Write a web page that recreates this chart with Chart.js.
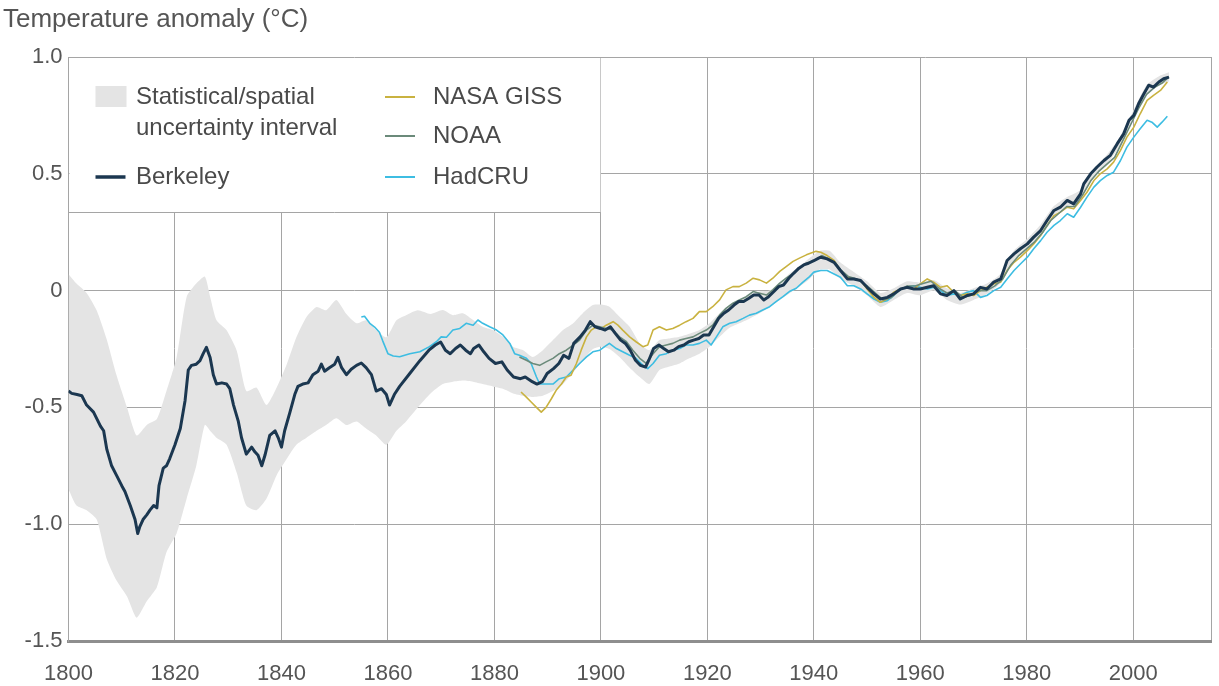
<!DOCTYPE html>
<html>
<head>
<meta charset="utf-8">
<title>Temperature anomaly</title>
<script src="https://cdn.jsdelivr.net/npm/chart.js@4.4.1/dist/chart.umd.min.js"></script>
<style>
  html, body { margin: 0; padding: 0; background: #ffffff; }
  #wrap { width: 1219px; height: 686px; }
</style>
</head>
<body>
<div id="wrap"><canvas id="chart" width="1219" height="686"></canvas></div>
<script>
// ---- Land temperature anomaly, 10-year moving averages (°C) ----

const berkeleyYears = [
  1800, 1800.6, 1801.6, 1802.5, 1803.4, 1804.7, 1806, 1806.6, 1807.2, 1808.1,
  1809, 1810, 1810.6, 1811.6, 1812.5, 1813, 1813.4, 1814, 1814.7, 1815.3,
  1816, 1816.6, 1817, 1817.8, 1818.4, 1819, 1820, 1821, 1821.9, 1822.5,
  1823.1, 1824, 1824.7, 1825.3, 1825.9, 1826.6, 1827.2, 1827.8, 1828.8, 1829.7,
  1830.3, 1831, 1831.9, 1832.5, 1833.4, 1834.4, 1835, 1835.6, 1836.3, 1836.9,
  1837.8, 1838.8, 1839.4, 1840, 1840.6, 1841.6, 1842.5, 1843.1, 1844, 1845,
  1845.9, 1846.9, 1847.5, 1848.1, 1849, 1850, 1850.6, 1851.3, 1852.2, 1853.1,
  1854.1, 1855, 1855.9, 1856.9, 1857.8, 1858.8, 1859.7, 1860.3, 1861.2, 1862.2,
  1864.1, 1866, 1867.7, 1868.9, 1869.9, 1870.8, 1871.7, 1872.7, 1873.6, 1874.6,
  1875.5, 1876.1, 1877.1, 1878, 1879, 1880.2, 1881.4, 1882.4, 1883.6, 1884.9,
  1885.8, 1887.1, 1888, 1889, 1889.9, 1891.1, 1892.1, 1893, 1894, 1894.9,
  1896.1, 1897.1, 1898, 1898.9, 1899.9, 1900.8, 1901.8, 1902.7, 1903.7, 1904.6,
  1905.5, 1906.5, 1907.4, 1908.4, 1909, 1909.9, 1910.9, 1911.8, 1912.7, 1913.7,
  1914.6, 1915.6, 1916.5, 1917.4, 1918.4, 1919.3, 1920.3, 1921.2, 1922.1, 1923.1,
  1924, 1925, 1925.9, 1926.8, 1927.8, 1928.7, 1929.7, 1930.6, 1931.5, 1932.5,
  1933.4, 1934.3, 1935.3, 1936.2, 1937.2, 1938.1, 1939, 1940, 1940.9, 1941.3,
  1942.5, 1943.8, 1945, 1946.3, 1947.5, 1948.8, 1950, 1951.3, 1952.5, 1953.8,
  1955, 1956.3, 1957.5, 1958.8, 1960, 1961.3, 1962.5, 1963.8, 1965, 1966.3,
  1967.5, 1968.8, 1970, 1971.3, 1972.5, 1973.8, 1975.1, 1976.3, 1977.6, 1978.8,
  1980.1, 1981.3, 1982.6, 1983.8, 1985.1, 1986.3, 1987.6, 1988.8, 1990.1, 1990.7,
  1992, 1993.2, 1994.5, 1995.7, 1997, 1998.2, 1999.2, 2000.1, 2001, 2002,
  2002.9, 2003.8, 2004.8, 2005.7, 2006.7
];
const berkeleyAnomaly = [
  -0.43, -0.44, -0.445, -0.45, -0.49, -0.52, -0.58, -0.60, -0.68, -0.75,
  -0.79, -0.835, -0.86, -0.92, -0.98, -1.04, -1.01, -0.98, -0.96, -0.94,
  -0.92, -0.93, -0.835, -0.76, -0.75, -0.72, -0.66, -0.59, -0.47, -0.34,
  -0.32, -0.315, -0.30, -0.27, -0.243, -0.286, -0.36, -0.40, -0.395, -0.40,
  -0.42, -0.49, -0.56, -0.63, -0.70, -0.67, -0.69, -0.705, -0.75, -0.705,
  -0.62, -0.60, -0.63, -0.67, -0.60, -0.52, -0.445, -0.41, -0.40, -0.395,
  -0.36, -0.345, -0.315, -0.345, -0.33, -0.315, -0.286, -0.33, -0.36, -0.337,
  -0.32, -0.31, -0.33, -0.36, -0.43, -0.42, -0.445, -0.49, -0.445, -0.41,
  -0.355, -0.30, -0.255, -0.233, -0.22, -0.255, -0.27, -0.248, -0.233, -0.255,
  -0.27, -0.248, -0.233, -0.262, -0.29, -0.312, -0.305, -0.34, -0.37, -0.377,
  -0.37, -0.39, -0.40, -0.39, -0.355, -0.334, -0.312, -0.277, -0.29, -0.226,
  -0.198, -0.169, -0.133, -0.155, -0.162, -0.169, -0.155, -0.183, -0.212, -0.226,
  -0.255, -0.298, -0.32, -0.327, -0.298, -0.248, -0.233, -0.248, -0.262, -0.255,
  -0.24, -0.233, -0.219, -0.212, -0.205, -0.19, -0.19, -0.155, -0.119, -0.097,
  -0.083, -0.062, -0.047, -0.047, -0.033, -0.019, -0.019, -0.04, -0.026, -0.004,
  0.017, 0.024, 0.053, 0.074, 0.096, 0.11, 0.117, 0.128, 0.139, 0.143,
  0.136, 0.121, 0.086, 0.05, 0.05, 0.043, 0.014, -0.014, -0.036, -0.029,
  -0.014, 0.007, 0.014, 0.007, 0.007, 0.014, 0.021, -0.014, -0.021, 0.0,
  -0.036, -0.021, -0.014, 0.014, 0.007, 0.036, 0.05, 0.129, 0.157, 0.179,
  0.20, 0.229, 0.257, 0.30, 0.343, 0.357, 0.386, 0.371, 0.414, 0.457,
  0.50, 0.529, 0.557, 0.579, 0.629, 0.671, 0.729, 0.75, 0.80, 0.843,
  0.879, 0.871, 0.893, 0.907, 0.914
];

const gissYears = [
  1885, 1886, 1886.9, 1887.9, 1888.8, 1889.7, 1890.7, 1891.6, 1892.6, 1893.5,
  1894.4, 1895.4, 1896.3, 1897.3, 1898.2, 1899.1, 1900.1, 1901, 1902.3, 1903.2,
  1904.1, 1905.4, 1906.6, 1907.9, 1908.8, 1909.8, 1911, 1912.3, 1913.5, 1914.8,
  1916, 1917.3, 1918.5, 1919.8, 1921, 1922.3, 1923.5, 1924.8, 1926, 1927.3,
  1928.6, 1929.8, 1931.1, 1932.3, 1933.6, 1934.8, 1936.1, 1937.3, 1938.6, 1940.4,
  1941.3, 1942.5, 1943.8, 1945, 1946.3, 1948.8, 1950, 1951.3, 1952.5, 1953.8,
  1955, 1956.3, 1957.5, 1958.8, 1960, 1961.3, 1962.5, 1963.8, 1965, 1966.3,
  1967.5, 1968.8, 1970, 1971.3, 1972.5, 1973.8, 1975.1, 1976.3, 1977.6, 1978.8,
  1980.1, 1981.3, 1982.6, 1983.8, 1985.1, 1986.3, 1987.6, 1988.8, 1990.1, 1991.3,
  1992.6, 1993.8, 1995.1, 1996.3, 1997.6, 1998.8, 2000.1, 2001.3, 2002.6, 2003.8,
  2005.1, 2006.4
];
const gissAnomaly = [
  -0.434, -0.456, -0.477, -0.50, -0.52, -0.50, -0.463, -0.427, -0.40, -0.37,
  -0.362, -0.312, -0.255, -0.198, -0.169, -0.155, -0.162, -0.148, -0.133, -0.148,
  -0.169, -0.198, -0.219, -0.24, -0.233, -0.169, -0.155, -0.169, -0.162, -0.148,
  -0.133, -0.119, -0.09, -0.09, -0.069, -0.04, 0.003, 0.017, 0.017, 0.032,
  0.053, 0.046, 0.032, 0.053, 0.082, 0.103, 0.125, 0.139, 0.153, 0.168,
  0.164, 0.15, 0.129, 0.086, 0.057, 0.043, 0.007, -0.029, -0.05, -0.036,
  -0.007, 0.007, 0.014, 0.007, 0.029, 0.05, 0.036, 0.014, 0.021, -0.007,
  -0.021, -0.014, -0.021, 0.0, 0.014, 0.029, 0.036, 0.086, 0.121, 0.143,
  0.171, 0.20, 0.236, 0.279, 0.321, 0.336, 0.357, 0.35, 0.386, 0.421,
  0.471, 0.50, 0.521, 0.55, 0.60, 0.657, 0.70, 0.757, 0.814, 0.836,
  0.857, 0.893
];

const noaaYears = [
  1884.7, 1886, 1887.2, 1888.5, 1889.7, 1891, 1892.2, 1893.5, 1894.8, 1896,
  1897.3, 1898.5, 1899.8, 1901, 1902.3, 1903.5, 1904.8, 1906, 1907.3, 1908.5,
  1909.8, 1911, 1912.3, 1913.5, 1914.8, 1916, 1917.3, 1918.5, 1919.8, 1921,
  1922.3, 1923.5, 1924.8, 1926, 1927.3, 1928.6, 1929.8, 1931.1, 1932.3, 1933.6,
  1934.8, 1936.1, 1937.3, 1938.6, 1940.4, 1941.5, 1942.5, 1944, 1945, 1946.5,
  1948, 1950, 1951.5, 1953, 1954.5, 1956, 1957.5, 1959, 1960.5, 1962,
  1963.5, 1965, 1966.5, 1968, 1969.5, 1971, 1972.5, 1974, 1975.5, 1977,
  1978.5, 1980, 1981.5, 1983, 1984.5, 1986, 1987.5, 1989, 1990.5, 1992,
  1993.5, 1995, 1996.5, 1998, 1999.5, 2001, 2002.5, 2004, 2005.5, 2006.7
];
const noaaAnomaly = [
  -0.284, -0.298, -0.312, -0.32, -0.305, -0.29, -0.27, -0.255, -0.233, -0.212,
  -0.169, -0.148, -0.155, -0.162, -0.169, -0.198, -0.219, -0.255, -0.29, -0.312,
  -0.27, -0.24, -0.233, -0.226, -0.212, -0.205, -0.198, -0.183, -0.169, -0.148,
  -0.105, -0.076, -0.054, -0.04, -0.026, -0.004, -0.011, -0.019, 0.003, 0.032,
  0.053, 0.074, 0.096, 0.117, 0.132, 0.15, 0.14, 0.12, 0.09, 0.06,
  0.05, 0.02, -0.01, -0.04, -0.03, 0.0, 0.02, 0.02, 0.03, 0.04,
  0.01, -0.01, 0.0, -0.03, -0.02, 0.0, 0.0, 0.02, 0.05, 0.11,
  0.15, 0.18, 0.21, 0.25, 0.30, 0.33, 0.36, 0.36, 0.41, 0.47,
  0.51, 0.54, 0.57, 0.64, 0.71, 0.78, 0.84, 0.87, 0.89, 0.915
];

const hadcruYears = [
  1855, 1855.6, 1856.6, 1857.5, 1858.4, 1859, 1860, 1861, 1862.2, 1864.1,
  1866, 1867.8, 1869.1, 1870, 1871, 1872.2, 1873.5, 1874.7, 1876, 1876.9,
  1877.8, 1879.1, 1880.4, 1881.6, 1882.9, 1883.8, 1884.7, 1886, 1886.9, 1887.9,
  1888.5, 1889.7, 1891, 1892.2, 1893.5, 1894.8, 1896, 1897.3, 1898.5, 1899.8,
  1900.7, 1901.6, 1902.9, 1904.1, 1905.4, 1906.6, 1907.9, 1908.8, 1909.8, 1911,
  1912.3, 1913.5, 1914.8, 1916, 1917.3, 1918.5, 1919.8, 1920.7, 1921.7, 1922.9,
  1924.2, 1925.4, 1926.7, 1927.9, 1929.2, 1930.4, 1931.7, 1932.9, 1934.2, 1935.4,
  1936.7, 1937.9, 1939.2, 1940, 1941.3, 1942.5, 1943.8, 1945, 1946.3, 1947.5,
  1948.8, 1950, 1951.3, 1952.5, 1953.8, 1955, 1956.3, 1957.5, 1958.8, 1960,
  1961.3, 1962.5, 1963.8, 1965, 1966.3, 1967.5, 1968.8, 1970, 1971.3, 1972.5,
  1973.8, 1975.1, 1976.3, 1977.6, 1978.8, 1980.1, 1981.3, 1982.6, 1983.8, 1985.1,
  1986.3, 1987.6, 1988.8, 1990.1, 1991.3, 1992.6, 1993.8, 1995.1, 1996.3, 1997.6,
  1998.8, 2000.1, 2001.3, 2002.6, 2003.5, 2004.5, 2005.4, 2006.4
];
const hadcruAnomaly = [
  -0.113, -0.11, -0.14, -0.156, -0.178, -0.214, -0.27, -0.28, -0.283, -0.27,
  -0.262, -0.24, -0.219, -0.198, -0.20, -0.169, -0.162, -0.14, -0.148, -0.126,
  -0.14, -0.155, -0.169, -0.19, -0.226, -0.27, -0.277, -0.29, -0.312, -0.37,
  -0.40, -0.40, -0.40, -0.377, -0.37, -0.34, -0.312, -0.284, -0.262, -0.255,
  -0.24, -0.226, -0.248, -0.262, -0.277, -0.29, -0.32, -0.334, -0.312, -0.277,
  -0.27, -0.255, -0.248, -0.233, -0.233, -0.226, -0.212, -0.233, -0.198, -0.155,
  -0.14, -0.133, -0.119, -0.105, -0.097, -0.083, -0.069, -0.047, -0.026, -0.004,
  0.01, 0.035, 0.06, 0.079, 0.086, 0.086, 0.071, 0.057, 0.021, 0.021,
  0.007, -0.014, -0.036, -0.05, -0.043, -0.021, 0.007, 0.014, 0.021, 0.014,
  0.007, 0.014, 0.0, -0.021, -0.014, -0.021, -0.007, 0.0, -0.029, -0.021,
  0.0, 0.014, 0.05, 0.086, 0.114, 0.143, 0.179, 0.214, 0.25, 0.279,
  0.30, 0.329, 0.314, 0.357, 0.40, 0.443, 0.471, 0.493, 0.507, 0.557,
  0.614, 0.657, 0.693, 0.729, 0.721, 0.70, 0.721, 0.746
];

// Statistical/spatial uncertainty interval around the Berkeley series
const bandYears = [
  1800, 1801.5, 1803.4, 1805.3, 1807.2, 1809, 1811, 1812.8, 1814.7, 1816.6,
  1818.4, 1820.3, 1822.2, 1824, 1825.6, 1826.6, 1827.8, 1829.7, 1831.6, 1833.4,
  1835.3, 1837.2, 1839.1, 1841, 1842.8, 1844.7, 1846.6, 1848.4, 1850.3, 1852.2,
  1854.1, 1855.9, 1857.8, 1859.7, 1861.6, 1863.4, 1865.6, 1868, 1870.3, 1872.2,
  1874.1, 1876, 1877.8, 1879.7, 1881.6, 1883.5, 1885.4, 1887.2, 1889.1, 1891,
  1892.9, 1894.8, 1896.6, 1898.5, 1900, 1901.6, 1903.5, 1905.4, 1907.3, 1909.1,
  1911, 1912.9, 1914.8, 1916.6, 1918.5, 1920.4, 1922.3, 1924.1, 1926, 1927.9,
  1929.8, 1931.7, 1933.6, 1935.5, 1937.3, 1939.2, 1941.1, 1943, 1945, 1947.5,
  1950, 1952.5, 1955, 1957.5, 1960, 1962.5, 1965, 1967.5, 1970, 1972.5,
  1975, 1977.5, 1980, 1982.5, 1985, 1987.5, 1990, 1992.5, 1995, 1997.5,
  2000, 2002.5, 2005, 2006.7
];
const bandUpper = [
  0.07, 0.03, -0.01, -0.085, -0.21, -0.36, -0.50, -0.62, -0.575, -0.55,
  -0.43, -0.286, -0.026, 0.03, 0.06, -0.026, -0.127, -0.17, -0.257, -0.43,
  -0.415, -0.49, -0.415, -0.315, -0.20, -0.113, -0.07, -0.084, -0.04, -0.10,
  -0.14, -0.127, -0.17, -0.20, -0.127, -0.105, -0.084, -0.10, -0.083, -0.105,
  -0.097, -0.126, -0.155, -0.169, -0.198, -0.24, -0.255, -0.284, -0.255, -0.212,
  -0.169, -0.14, -0.097, -0.062, -0.06, -0.069, -0.112, -0.155, -0.226, -0.255,
  -0.212, -0.205, -0.198, -0.185, -0.169, -0.14, -0.097, -0.062, -0.04, -0.02,
  -0.004, 0.0, 0.032, 0.074, 0.103, 0.14, 0.17, 0.17, 0.12, 0.08,
  0.04, -0.01, 0.01, 0.04, 0.035, 0.045, 0.01, -0.01, 0.01, 0.03,
  0.07, 0.17, 0.22, 0.28, 0.36, 0.40, 0.43, 0.52, 0.58, 0.66,
  0.77, 0.88, 0.92, 0.935
];
const bandLower = [
  -0.85, -0.92, -0.94, -0.98, -1.15, -1.24, -1.31, -1.40, -1.33, -1.27,
  -1.12, -1.04, -0.89, -0.75, -0.575, -0.60, -0.63, -0.66, -0.78, -0.92,
  -0.94, -0.89, -0.79, -0.72, -0.66, -0.63, -0.60, -0.575, -0.546, -0.575,
  -0.56, -0.59, -0.62, -0.66, -0.60, -0.56, -0.50, -0.44, -0.40, -0.39,
  -0.385, -0.39, -0.40, -0.41, -0.42, -0.44, -0.45, -0.455, -0.45, -0.43,
  -0.40, -0.35, -0.30, -0.25, -0.24, -0.25, -0.284, -0.33, -0.37, -0.40,
  -0.34, -0.325, -0.312, -0.29, -0.27, -0.24, -0.198, -0.16, -0.14, -0.12,
  -0.097, -0.07, -0.04, -0.01, 0.017, 0.05, 0.09, 0.09, 0.05, 0.02,
  -0.02, -0.07, -0.04, -0.01, -0.02, 0.0, -0.04, -0.06, -0.04, -0.015,
  0.03, 0.13, 0.18, 0.24, 0.32, 0.36, 0.39, 0.48, 0.54, 0.62,
  0.73, 0.84, 0.88, 0.895
];

const yTickValues = [-1.5, -1.0, -0.5, 0, 0.5, 1.0];
const xTickYears = [1800, 1820, 1840, 1860, 1880, 1900, 1920, 1940, 1960, 1980, 2000];

// ---- styling ----
const FONT = '"Liberation Sans", Arial, Helvetica, sans-serif';
const COLORS = {
  berkeley: '#1b3750',
  giss: '#c9b240',
  noaa: '#6b8a7a',
  hadcru: '#3dbde2',
  band: '#e4e4e4',
  grid: '#a5a5a5',
  axis: '#8e8e8e',
  text: '#555555'
};

const toPoints = (xs, ys) => xs.map((x, i) => ({ x: x, y: ys[i] }));

function lineSet(label, xs, ys, color, width, order) {
  return {
    label: label,
    data: toPoints(xs, ys),
    borderColor: color,
    backgroundColor: color,
    borderWidth: width,
    pointRadius: 0,
    tension: 0,
    fill: false,
    borderJoinStyle: 'round',
    order: order
  };
}

// Legend panel drawn in the upper-left corner of the plot area
const legendPanel = {
  id: 'legendPanel',
  beforeDatasetsDraw(chart) {
    const { ctx, chartArea: a, scales } = chart;
    const right = scales.x.getPixelForValue(1900);
    const bottom = Math.round(scales.y.getPixelForValue(0.336)) + 0.5;
    ctx.save();
    ctx.fillStyle = '#ffffff';
    ctx.fillRect(a.left + 1, a.top + 1, right - a.left - 1.5, bottom - a.top - 1);
    ctx.strokeStyle = COLORS.grid;
    ctx.lineWidth = 1;
    ctx.beginPath();
    ctx.moveTo(a.left, bottom);
    ctx.lineTo(right, bottom);
    ctx.stroke();

    ctx.font = '24px ' + FONT;
    ctx.textBaseline = 'middle';
    ctx.textAlign = 'left';

    const lx = a.left + 27, tx = a.left + 67.5;
    // uncertainty swatch
    ctx.fillStyle = COLORS.band;
    ctx.fillRect(lx, a.top + 29, 31, 21);
    ctx.fillStyle = '#4a4a4a';
    ctx.fillText('Statistical/spatial', tx, a.top + 40);
    ctx.fillText('uncertainty interval', tx, a.top + 71);

    const swatch = (x, y, color, w) => {
      ctx.strokeStyle = color;
      ctx.lineWidth = w;
      ctx.beginPath();
      ctx.moveTo(x, y);
      ctx.lineTo(x + 30, y);
      ctx.stroke();
    };
    swatch(lx, a.top + 120, COLORS.berkeley, 3.5);
    ctx.fillText('Berkeley', tx, a.top + 120);

    const rx = a.left + 316.5, rtx = a.left + 364.5;
    swatch(rx, a.top + 40, COLORS.giss, 2);
    ctx.fillText('NASA GISS', rtx, a.top + 40);
    swatch(rx, a.top + 79, COLORS.noaa, 2);
    ctx.fillText('NOAA', rtx, a.top + 79);
    swatch(rx, a.top + 120, COLORS.hadcru, 2);
    ctx.fillText('HadCRU', rtx, a.top + 120);
    ctx.restore();
  }
};

new Chart(document.getElementById('chart'), {
  type: 'line',
  data: {
    datasets: [
      lineSet('Berkeley', berkeleyYears, berkeleyAnomaly, COLORS.berkeley, 3, 0),
      lineSet('NOAA', noaaYears, noaaAnomaly, COLORS.noaa, 1.6, 1),
      lineSet('NASA GISS', gissYears, gissAnomaly, COLORS.giss, 1.6, 2),
      lineSet('HadCRU', hadcruYears, hadcruAnomaly, COLORS.hadcru, 1.6, 3),
      {
        label: 'Uncertainty (upper)',
        data: toPoints(bandYears, bandUpper),
        borderWidth: 0,
        borderColor: 'rgba(0,0,0,0)',
        backgroundColor: COLORS.band,
        pointRadius: 0,
        tension: 0.2,
        fill: '+1',
        order: 4
      },
      {
        label: 'Uncertainty (lower)',
        data: toPoints(bandYears, bandLower),
        borderWidth: 0,
        borderColor: 'rgba(0,0,0,0)',
        backgroundColor: COLORS.band,
        pointRadius: 0,
        tension: 0.2,
        fill: false,
        order: 5
      }
    ]
  },
  options: {
    responsive: false,
    devicePixelRatio: 1,
    animation: false,
    events: [],
    layout: { padding: { left: 3, right: 8, top: 0, bottom: 0 } },
    plugins: {
      legend: { display: false },
      tooltip: { enabled: false },
      title: {
        display: true,
        text: 'Temperature anomaly (°C)',
        align: 'start',
        color: COLORS.text,
        font: { family: FONT, size: 26, weight: 'normal', lineHeight: 1.2 },
        padding: { top: 4, bottom: 21.8 }
      }
    },
    scales: {
      x: {
        type: 'linear',
        min: 1800,
        max: 2014.6,
        afterBuildTicks: (scale) => {
          scale.ticks = xTickYears.map(v => ({ value: v })).concat([{ value: 2014.6 }]);
        },
        ticks: {
          autoSkip: false,
          maxRotation: 0,
          padding: 0,
          color: COLORS.text,
          font: { family: FONT, size: 22 },
          callback: (v) => (xTickYears.includes(v) ? String(v) : '')
        },
        grid: { color: COLORS.grid, lineWidth: 1, drawTicks: true, tickLength: 20, tickColor: 'rgba(0,0,0,0)' },
        border: { color: COLORS.axis, width: 3 },
        afterFit: (scale) => { scale.height = 45; }
      },
      y: {
        type: 'linear',
        min: -1.5,
        max: 1.0,
        afterBuildTicks: (scale) => {
          scale.ticks = yTickValues.map(v => ({ value: v }));
        },
        ticks: {
          padding: 6,
          color: COLORS.text,
          font: { family: FONT, size: 22 },
          callback: (v) => (v === 0 ? '0' : v.toFixed(1))
        },
        grid: { color: COLORS.grid, lineWidth: 1, drawTicks: false },
        border: { color: COLORS.grid, width: 1 },
        afterFit: (scale) => { scale.width = 65.5; }
      }
    }
  },
  plugins: [legendPanel]
});
</script>
</body>
</html>
